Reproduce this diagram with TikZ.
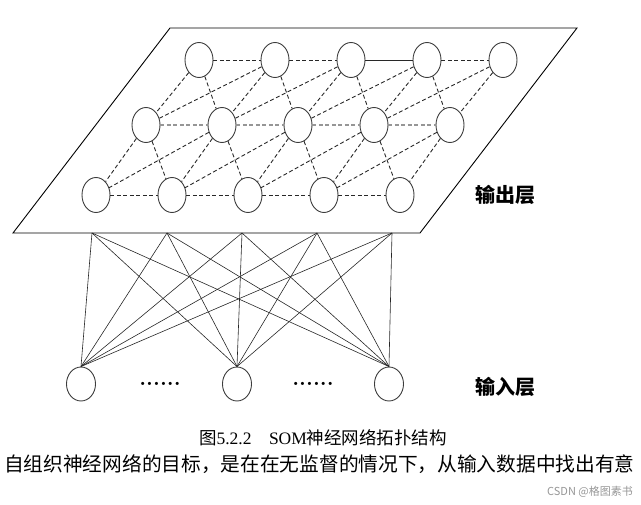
\documentclass[tikz,border=0pt]{standalone}
\usepackage{fontspec}
\newfontfamily\cjk{Noto Sans CJK SC}
\newfontfamily\lserif{Liberation Serif}
\usetikzlibrary{shapes.geometric, positioning}
\definecolor{somgray}{RGB}{60,60,60}
\definecolor{somdash}{RGB}{40,40,40}
\definecolor{somlight}{RGB}{150,150,150}

\begin{document}
\begin{tikzpicture}[
    x=1pt, y=-1pt,
    unit/.style={
        ellipse,
        draw=somgray,
        line width=0.9pt,
        minimum width=28pt,
        minimum height=35pt,
        inner sep=0pt
    },
    link/.style={draw=somdash, line width=0.9pt, dash pattern=on 4pt off 2.5pt},
    wire/.style={draw=black!85, line width=0.6pt},
    layer/.style={font=\cjk\bfseries\fontsize{20}{24}\selectfont}
]
\useasboundingbox (0,0) rectangle (641,505);

% Output plane
\draw[line width=0.9pt] (170,28) -- (577,28) -- (420,233) -- (13,233) -- cycle;

% Output layer, three rows of units
\foreach \j in {1,...,5} {
    \node[unit] (a\j) at ({123+76*\j},60) {};
    \node[unit] (b\j) at ({70+76*\j},125) {};
    \node[unit] (c\j) at ({20+76*\j},195) {};
}

% Links inside a row
\foreach \j/\k in {1/2,2/3,4/5} \draw[link] (a\j) -- (a\k);
\draw[link, solid] (a3) -- (a4);
\foreach \j/\k in {1/2,2/3,3/4,4/5} {
    \draw[link, draw=somlight, line width=1.2pt] (b\j) -- (b\k);
    \draw[link] (c\j) -- (c\k);
}

% Links between rows
\foreach \j in {1,...,5} {
    \draw[link] (a\j) -- (b\j);
    \draw[link] (b\j) -- (c\j);
}
\foreach \j/\k in {1/2,2/3,3/4,4/5} {
    \draw[link] (a\j) -- (b\k);
    \draw[link] (a\k) -- (b\j);
    \draw[link] (b\j) -- (c\k);
    \draw[link] (b\k) -- (c\j);
}

% Input layer
\node[unit, minimum width=29pt, minimum height=34pt] (i1) at (81,384) {};
\node[unit, minimum width=29pt, minimum height=34pt] (i2) at (237,384) {};
\node[unit, minimum width=29pt, minimum height=34pt] (i3) at (389,384) {};
\node[font=\bfseries\fontsize{22}{24}\selectfont] (dots1) at (160,384) {......};
\node[font=\bfseries\fontsize{22}{24}\selectfont] (dots2) at (313,384) {......};

% Full connection to the plane
\foreach \j in {1,...,5} \coordinate (t\j) at ({17+75*\j},233);
\foreach \j in {1,...,5}
    \foreach \i in {1,2,3}
        \draw[wire] (t\j) -- (i\i.north);

% Layer names
\node[layer] (outname) at (505,195) {输出层};
\node[layer] (inname) at (505,387) {输入层};

% Caption and text below
\node[font=\fontsize{17.5}{20}\selectfont] (caption) at (323,438)
    {{\cjk 图}{\lserif 5.2.2\quad SOM}{\cjk 神经网络拓扑结构}};
\node[anchor=west, inner sep=0pt, font=\cjk\fontsize{19.7}{24}\selectfont] (para) at (4,464)
    {自组织神经网络的目标，是在在无监督的情况下，从输入数据中找出有意};
\node[font=\cjk\fontsize{11}{13}\selectfont, text=somlight] (mark) at (590,492) {CSDN @格图素书};

\end{tikzpicture}
\end{document}
